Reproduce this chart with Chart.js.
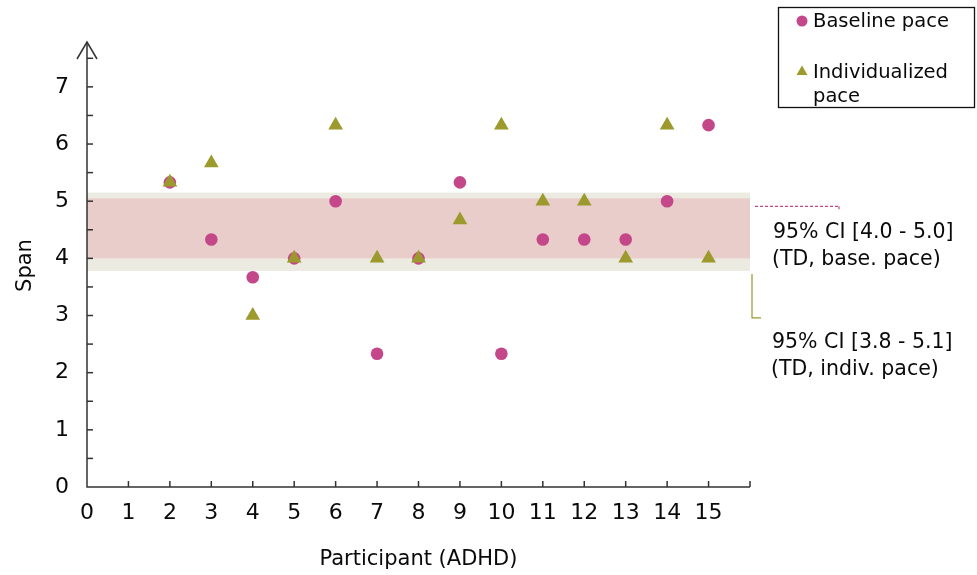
<!DOCTYPE html>
<html><head><meta charset="utf-8">
<script src="https://cdn.jsdelivr.net/npm/chart.js@4.4.1/dist/chart.umd.min.js"></script>
<style>html,body{margin:0;padding:0;background:#fff;} #wrap{width:977px;height:575px;position:relative;}</style>
</head><body><div id="wrap"><canvas id="c" width="977" height="575"></canvas></div>
<script>
const participants = [2,3,4,5,6,7,8,9,10,11,12,13,14,15];
const baselinePace = [5.33,4.33,3.67,4.0,5.0,2.33,4.0,5.33,2.33,4.33,4.33,4.33,5.0,6.33];
const individualizedPace = [5.33,5.67,3.0,4.0,6.33,4.0,4.0,4.67,6.33,5.0,5.0,4.0,6.33,4.0];
const xTickLabels = ['0','1','2','3','4','5','6','7','8','9','10','11','12','13','14','15'];
const yTickLabels = ['0','1','2','3','4','5','6','7'];
const ciBaseline = [4.0, 5.05];
const ciIndividualized = [3.78, 5.15];
const seriesNames = ['Baseline pace', 'Individualized pace'];
const ciLabels = [['95% CI [4.0 - 5.0]', '(TD, base. pace)'], ['95% CI [3.8 - 5.1]', '(TD, indiv. pace)']];
const xTitle = 'Participant (ADHD)';
const yTitle = 'Span';

const PINK = '#C4478A';
const OLIVE = '#9C9A2C';
const FONT = 'DejaVu Sans';
const TXT = '#0a0a0a';

const custom = {
  id: 'custom',
  beforeDatasetsDraw(chart) {
    const {ctx, scales: {x, y}} = chart;
    ctx.save();
    const x0 = x.getPixelForValue(0), x1 = x.getPixelForValue(16);
    ctx.fillStyle = '#EBEBE1';
    let t = y.getPixelForValue(ciIndividualized[1]), b = y.getPixelForValue(ciIndividualized[0]);
    ctx.fillRect(x0, t, x1 - x0, b - t);
    ctx.fillStyle = '#E8CDCB';
    t = y.getPixelForValue(ciBaseline[1]); b = y.getPixelForValue(ciBaseline[0]);
    ctx.fillRect(x0, t, x1 - x0, b - t);
    ctx.restore();
  },
  afterDatasetsDraw(chart) {
    const {ctx, chartArea: a, scales: {x, y}} = chart;
    ctx.save();
    ctx.strokeStyle = '#333';
    ctx.lineWidth = 1.5;
    const ax = x.getPixelForValue(0), ay = y.getPixelForValue(0);
    const xr = x.getPixelForValue(16);
    ctx.beginPath();
    ctx.moveTo(xr, ay); ctx.lineTo(ax, ay); ctx.lineTo(ax, a.top - 2);
    ctx.stroke();
    ctx.beginPath();
    ctx.moveTo(ax - 10, a.top + 15); ctx.lineTo(ax, a.top - 2); ctx.lineTo(ax + 10, a.top + 15);
    ctx.stroke();
    for (let k = 1; k <= 15; k++) {
      const py = y.getPixelForValue(k * 0.5);
      ctx.beginPath(); ctx.moveTo(ax, py); ctx.lineTo(ax + 6, py); ctx.stroke();
    }
    for (let k = 1; k <= 16; k++) {
      const px = x.getPixelForValue(k);
      ctx.beginPath(); ctx.moveTo(px, ay); ctx.lineTo(px, ay - 6); ctx.stroke();
    }
    ctx.lineWidth = 1.2;
    ctx.strokeStyle = PINK;
    ctx.setLineDash([3, 2]);
    const dy = y.getPixelForValue(ciBaseline[1]) + 8;
    ctx.beginPath(); ctx.moveTo(xr + 5, dy); ctx.lineTo(xr + 89, dy); ctx.stroke();
    ctx.setLineDash([]);
    ctx.beginPath(); ctx.moveTo(xr + 89, dy); ctx.lineTo(xr + 89, dy + 3); ctx.stroke();
    ctx.strokeStyle = OLIVE;
    const oy = y.getPixelForValue(ciIndividualized[0]) + 3;
    ctx.beginPath(); ctx.moveTo(xr + 2, oy); ctx.lineTo(xr + 2, oy + 44); ctx.lineTo(xr + 11, oy + 44); ctx.stroke();
    ctx.fillStyle = TXT;
    ctx.font = '20.5px "' + FONT + '"';
    ctx.textAlign = 'left';
    ctx.textBaseline = 'middle';
    ctx.fillText(ciLabels[0][0], xr + 23, dy + 26);
    ctx.fillText(ciLabels[0][1], xr + 22, dy + 53);
    ctx.fillText(ciLabels[1][0], xr + 22, oy + 69);
    ctx.fillText(ciLabels[1][1], xr + 21, oy + 96);
    ctx.strokeStyle = '#111';
    ctx.lineWidth = 1.3;
    ctx.strokeRect(778.5, 7.5, 196, 100);
    ctx.fillStyle = PINK;
    ctx.beginPath(); ctx.arc(802, 21, 5.5, 0, Math.PI * 2); ctx.fill();
    ctx.fillStyle = OLIVE;
    ctx.beginPath(); ctx.moveTo(802, 65.5); ctx.lineTo(807.5, 75); ctx.lineTo(796.5, 75); ctx.closePath(); ctx.fill();
    ctx.fillStyle = TXT;
    ctx.font = '19.5px "' + FONT + '"';
    ctx.fillText(seriesNames[0], 813, 22);
    const parts = seriesNames[1].split(' ');
    ctx.fillText(parts[0], 813, 73);
    ctx.fillText(parts[1], 813, 97);
    ctx.restore();
  }
};

new Chart(document.getElementById('c'), {
  type: 'scatter',
  data: {
    datasets: [
      {
        label: seriesNames[0],
        data: participants.map((p, i) => ({x: p, y: baselinePace[i]})),
        backgroundColor: PINK, borderColor: PINK, borderWidth: 0,
        pointStyle: 'circle', pointRadius: 6.3, order: 1
      },
      {
        label: seriesNames[1],
        data: participants.map((p, i) => ({x: p, y: individualizedPace[i]})),
        backgroundColor: OLIVE, borderColor: OLIVE, borderWidth: 0,
        pointStyle: 'triangle', pointRadius: 8.5, order: 0
      }
    ]
  },
  options: {
    responsive: false, animation: false, devicePixelRatio: 1,
    layout: {padding: {left: 0, right: 227, top: 44, bottom: 0}},
    plugins: {legend: {display: false}, tooltip: {enabled: false}},
    scales: {
      x: {
        type: 'linear', min: 0, max: 16,
        afterFit(s) { s.height = 88; },
        grid: {display: false, drawTicks: false},
        border: {display: false},
        ticks: {stepSize: 1, autoSkip: false, maxRotation: 0, padding: 13, color: TXT,
          font: {family: FONT, size: 22},
          callback: (v) => (xTickLabels[v] !== undefined ? xTickLabels[v] : '')},
        title: {display: true, text: xTitle, color: TXT, font: {family: FONT, size: 21}, padding: {top: 0, bottom: 3}}
      },
      y: {
        type: 'linear', min: 0, max: 7.75,
        afterFit(s) { s.width = 87; },
        grid: {display: false, drawTicks: false},
        border: {display: false},
        ticks: {stepSize: 1, includeBounds: false, autoSkip: false, padding: 18, color: TXT,
          font: {family: FONT, size: 22},
          callback: (v) => (Number.isInteger(v) && yTickLabels[v] !== undefined ? yTickLabels[v] : '')},
        title: {display: true, text: yTitle, color: TXT, font: {family: FONT, size: 21}, padding: {top: 13, bottom: 0}}
      }
    }
  },
  plugins: [custom]
});
</script>
</body></html>
